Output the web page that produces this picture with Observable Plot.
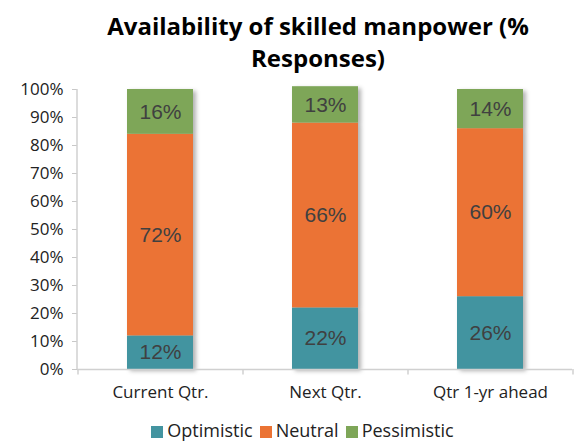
<!DOCTYPE html>
<html>
<head>
<meta charset="utf-8">
<script src="https://cdn.jsdelivr.net/npm/d3@7"></script>
<script src="https://cdn.jsdelivr.net/npm/@observablehq/plot@0.6"></script>
<style>
  html, body { margin: 0; padding: 0; background: #fff; }
  #wrap { position: relative; width: 575px; height: 441px; overflow: hidden; }
  #title { position: absolute; left: 58px; width: 520px; top: 10px; text-align: center;
    font-family: "Open Sans", "DejaVu Sans", sans-serif; font-weight: 700; font-size: 24px; line-height: 32px; color: #000; }
  #legend { position: absolute; left: 0; width: 612px; top: 420px; text-align: center;
    font-family: "Open Sans", sans-serif; font-size: 18px; color: #222; white-space: nowrap; line-height: 20px; }
  #legend span.sw { display: inline-block; width: 12px; height: 12px; margin-right: 4px; vertical-align: -1px; }
  #legend span.it { margin-right: 7px; }
  #chart { position: absolute; left: 0; top: 0; }
</style>
</head>
<body>
<div id="wrap">
  <div id="chart"></div>
  <div id="title">Availability of skilled manpower (%<br>Responses)</div>
  <div id="legend"></div>
</div>
<script>
const categories = ["Current Qtr.", "Next Qtr.", "Qtr 1-yr ahead"];
const seriesNames = ["Optimistic", "Neutral", "Pessimistic"];
const optimistic = [12, 22, 26];
const neutral = [72, 66, 60];
const pessimistic = [16, 13, 14];
const colors = ["#4394A0", "#EB7334", "#7EA658"];
const yTicks = [0, 10, 20, 30, 40, 50, 60, 70, 80, 90, 100];

const seriesValues = [optimistic, neutral, pessimistic];
const data = [];
categories.forEach((c, i) => {
  seriesNames.forEach((s, j) => data.push({cat: c, series: s, value: seriesValues[j][i]}));
});

const W = 575, H = 441, mL = 77, mR = 3, mT = 89, mB = 72;
const step = (W - mL - mR) / categories.length;
const boundaries = categories.map(c => ({cat: c, dx: -step / 2}))
  .concat([{cat: categories[categories.length - 1], dx: step / 2}]);

const chart = Plot.plot({
  width: W, height: H,
  marginLeft: mL, marginRight: mR, marginTop: mT, marginBottom: mB,
  style: {fontFamily: "'Open Sans', sans-serif", background: "transparent"},
  x: {domain: categories, paddingInner: 0.6, paddingOuter: 0.3, label: null},
  y: {domain: [0, 100], label: null},
  color: {domain: seriesNames, range: colors},
  marks: [
    Plot.axisY({ticks: yTicks, tickFormat: d => d + "%", tickSize: 5, tickPadding: 9,
      stroke: "#c8c8c8", fill: "#222", fontSize: 17, label: null}),
    Plot.axisX({tickSize: 0, tickPadding: 16, fontSize: 17, fill: "#222", label: null}),
    Plot.barY(data, {x: "cat", y: "value", fill: "series", order: seriesNames}),
    Plot.text(data, Plot.stackY({x: "cat", y: "value", z: "series", order: seriesNames,
      text: d => d.value + "%", fontSize: 21, fill: "#404040",
      fontFamily: "'Liberation Sans', Arial, sans-serif"})),
    Plot.ruleY([0], {stroke: "#d0d0d0", strokeWidth: 1.5}),
    Plot.ruleX(boundaries, {x: "cat", y1: 0, y2: -2, stroke: "#d0d0d0", strokeWidth: 1.5})
  ]
});

const svg = d3.select(chart);
// shift boundary ticks to band edges
svg.selectAll("g[aria-label='rule']").filter((d, i, n) => i === n.length - 1)
  .selectAll("line").each(function(_, i) {
    const b = boundaries[i];
    const x = +this.getAttribute("x1") + b.dx;
    this.setAttribute("x1", x); this.setAttribute("x2", x);
  });

// left axis line
const ys = chart.scale("y");
svg.append("line").attr("x1", mL).attr("x2", mL)
  .attr("y1", ys.apply(100)).attr("y2", ys.apply(0))
  .attr("stroke", "#d0d0d0").attr("stroke-width", 1.5);

// drop shadow on bars
const defs = svg.insert("defs", ":first-child");
const f = defs.append("filter").attr("id", "sh").attr("x", "-20%").attr("y", "-5%").attr("width", "150%").attr("height", "115%");
f.append("feDropShadow").attr("dx", 3).attr("dy", 2).attr("stdDeviation", 2).attr("flood-color", "#000").attr("flood-opacity", 0.3);
svg.selectAll("g[aria-label='bar']").attr("filter", "url(#sh)");

document.getElementById("chart").appendChild(chart);

const leg = document.getElementById("legend");
seriesNames.forEach((s, i) => {
  const it = document.createElement("span");
  it.className = "it";
  it.innerHTML = `<span class="sw" style="background:${colors[i]}"></span>${s}`;
  leg.appendChild(it);
});
</script>
</body>
</html>
